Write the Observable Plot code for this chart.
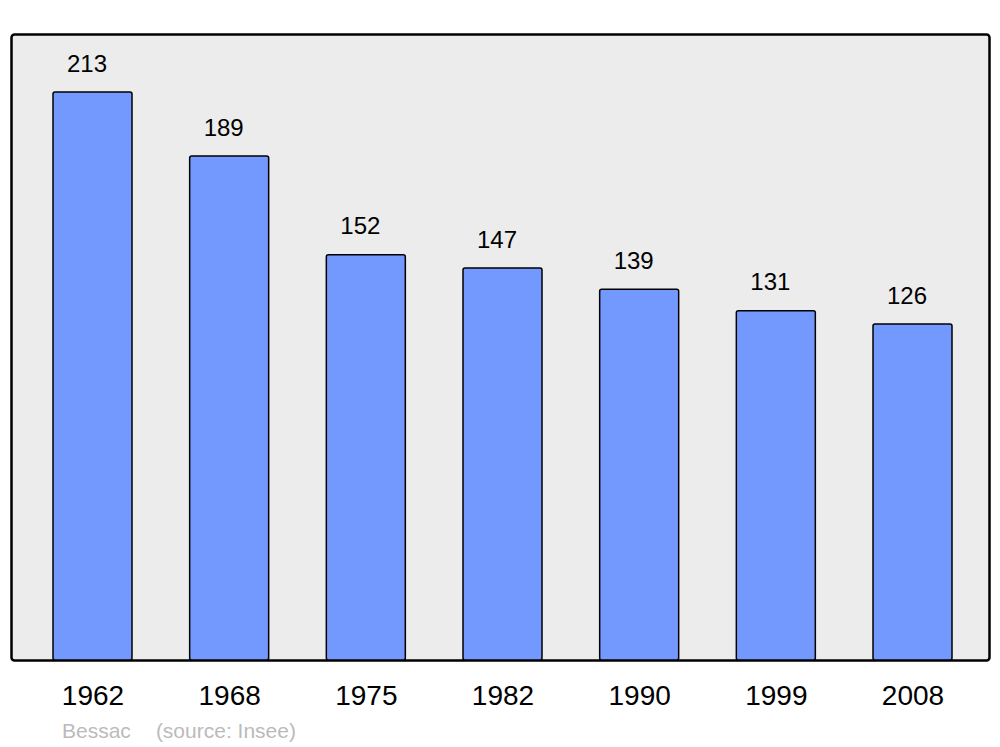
<!DOCTYPE html>
<html>
<head>
<meta charset="utf-8">
<script src="https://cdn.jsdelivr.net/npm/d3@7"></script>
<script src="https://cdn.jsdelivr.net/npm/@observablehq/plot@0.6"></script>
<style>
  html, body { margin: 0; padding: 0; background: #fff; }
  #chart svg { display: block; }
  .cap { font-family: "Liberation Sans", Arial, sans-serif; font-size: 21px; color: #bbbbbb; margin: 7px 0 0 62px; line-height: 23px; white-space: pre; }
  .cap span { margin-left: 25px; }
</style>
</head>
<body>
<div id="chart"></div>
<div class="cap">Bessac<span>(source: Insee)</span></div>
<script>
const years = ["1962", "1968", "1975", "1982", "1990", "1999", "2008"];
const population = [213, 189, 152, 147, 139, 131, 126];

const data = years.map((y, i) => ({year: y, pop: population[i]}));

const chart = Plot.plot({
  width: 1000,
  height: 712,
  marginTop: 34,
  marginBottom: 52,
  marginLeft: 11,
  marginRight: 11,
  style: {fontFamily: "'Liberation Sans', Arial, sans-serif", background: "#fff"},
  x: {type: "band", domain: years, range: [53, 952], paddingInner: 0.422, paddingOuter: 0, round: false, label: null},
  y: {domain: [0, 234.75], axis: null},
  marks: [
    Plot.frame({fill: "#ececec", stroke: "#000", strokeWidth: 2.5, rx: 3}),
    Plot.barY(data, {x: "year", y: "pop", fill: "#7399ff", stroke: "#000", strokeWidth: 1.5, rx: 2}),
    Plot.text(data, {x: "year", y: "pop", text: d => String(d.pop), dy: -21, dx: -6, fontSize: 24, lineAnchor: "bottom", fill: "#000"}),
    Plot.axisX({tickSize: 0, tickPadding: 25, fontSize: 28, color: "#000", label: null})
  ]
});
document.getElementById("chart").append(chart);
</script>
</body>
</html>
